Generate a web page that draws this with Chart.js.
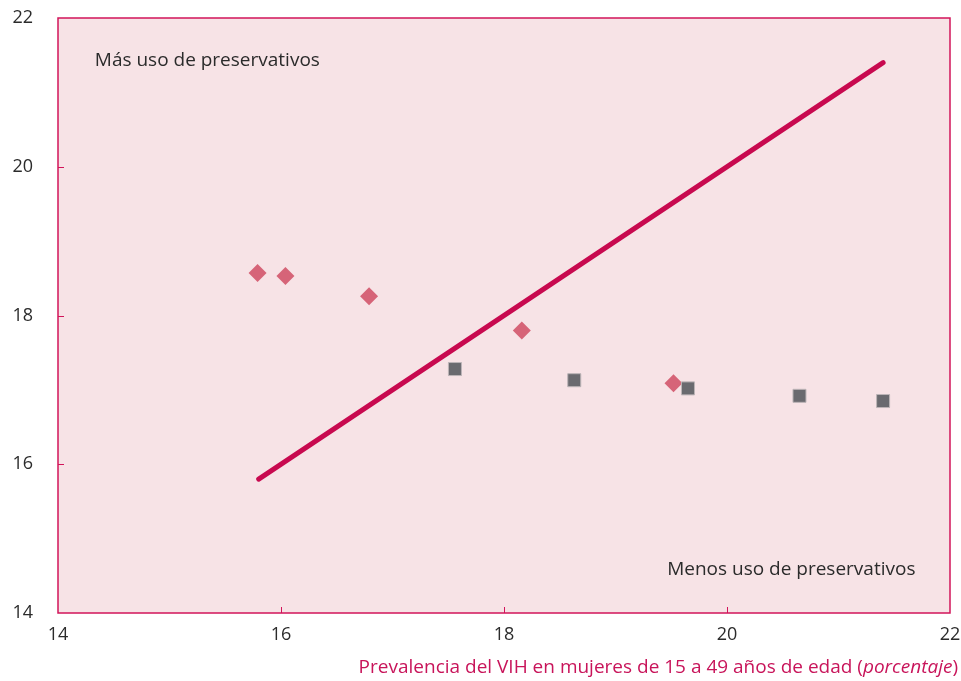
<!DOCTYPE html>
<html>
<head>
<meta charset="utf-8">
<script src="https://cdn.jsdelivr.net/npm/chart.js@4/dist/chart.umd.min.js"></script>
<style>
  html, body { margin: 0; padding: 0; background: #fff; }
  #wrap { width: 961px; height: 681px; position: relative; }
</style>
</head>
<body>
<div id="wrap"><canvas id="c"></canvas></div>
<script>
// values
const tickValues = [14, 16, 18, 20, 22]
const diamondX = [15.79, 16.04, 16.79, 18.16, 19.52]
const diamondY = [18.57, 18.53, 18.26, 17.80, 17.09]
const squareX = [17.56, 18.63, 19.65, 20.65, 21.40]
const squareY = [17.28, 17.13, 17.02, 16.92, 16.85]
const lineX = [15.8, 21.4]
const lineY = [15.8, 21.4]

const FONT = '"Open Sans", sans-serif'
const pink = '#d2145a'

function pts (xs, ys) {
  return xs.map((x, i) => ({x: x, y: ys[i]}))
}

const decor = {
  id: 'decor',
  beforeDatasetsDraw (chart) {
    const {ctx, chartArea: a} = chart
    ctx.save()
    ctx.fillStyle = '#f7e3e6'
    ctx.fillRect(a.left, a.top, a.right - a.left, a.bottom - a.top)
    ctx.restore()
  },
  afterDatasetsDraw (chart) {
    const {ctx, chartArea: a, scales} = chart
    const xs = scales.x, ys = scales.y
    ctx.save()
    // small inward ticks
    ctx.strokeStyle = pink
    ctx.lineWidth = 1
    ctx.beginPath()
    tickValues.slice(1, -1).forEach(v => {
      const px = Math.round(xs.getPixelForValue(v)) + 0.5
      ctx.moveTo(px, a.bottom)
      ctx.lineTo(px, a.bottom - 6)
      const py = Math.round(ys.getPixelForValue(v)) + 0.5
      ctx.moveTo(a.left, py)
      ctx.lineTo(a.left + 6, py)
    })
    ctx.stroke()
    // frame
    ctx.lineWidth = 1.5
    ctx.strokeRect(a.left, a.top, a.right - a.left, a.bottom - a.top)

    // annotations
    ctx.fillStyle = '#2b2b2b'
    ctx.font = '19px ' + FONT
    ctx.textBaseline = 'middle'
    ctx.textAlign = 'left'
    ctx.fillText('Más uso de preservativos', xs.getPixelForValue(14.33), ys.getPixelForValue(21.43))
    ctx.textAlign = 'right'
    ctx.fillText('Menos uso de preservativos', xs.getPixelForValue(21.69), ys.getPixelForValue(14.58))

    // axis title, with italic part
    const normal = '19px ' + FONT
    const italic = 'italic 19px ' + FONT
    const p1 = 'Prevalencia del VIH en mujeres de 15 a 49 años de edad ('
    const p2 = 'porcentaje'
    const p3 = ')'
    ctx.font = normal
    const w1 = ctx.measureText(p1).width
    const w3 = ctx.measureText(p3).width
    ctx.font = italic
    const w2 = ctx.measureText(p2).width
    let x = 958 - (w1 + w2 + w3)
    const y = 668
    ctx.fillStyle = '#c8145a'
    ctx.textAlign = 'left'
    ctx.font = normal
    ctx.fillText(p1, x, y)
    x += w1
    ctx.font = italic
    ctx.fillText(p2, x, y)
    x += w2
    ctx.font = normal
    ctx.fillText(p3, x, y)
    ctx.restore()
  }
}

const chart = new Chart(document.getElementById('c').getContext('2d'), {
  type: 'scatter',
  data: {
    datasets: [
      {
        type: 'line',
        label: 'línea',
        data: pts(lineX, lineY),
        borderColor: '#c8094f',
        borderWidth: 5,
        borderCapStyle: 'round',
        pointRadius: 0,
        fill: false,
        order: 3
      },
      {
        label: 'rombos',
        data: pts(diamondX, diamondY),
        pointStyle: 'rectRot',
        pointRadius: 9,
        pointBackgroundColor: '#d66478',
        pointBorderWidth: 0,
        order: 2
      },
      {
        label: 'cuadrados',
        data: pts(squareX, squareY),
        pointStyle: 'rect',
        pointRadius: 9.2,
        pointBackgroundColor: '#6a6a6f',
        pointBorderColor: '#bcb4b7',
        pointBorderWidth: 1,
        order: 1
      }
    ]
  },
  options: {
    responsive: true,
    maintainAspectRatio: false,
    animation: false,
    layout: {autoPadding: false, padding: {top: 18, right: 11, left: 0, bottom: 0}},
    scales: {
      x: {
        type: 'linear',
        min: 14,
        max: 22,
        afterBuildTicks: s => { s.ticks = tickValues.map(v => ({value: v})) },
        afterFit: s => { s.height = 68 },
        // invisible tick marks only carry the label offset
        grid: {display: true, drawOnChartArea: false, drawTicks: true, tickLength: 11, color: 'rgba(0,0,0,0)'},
        border: {display: false},
        ticks: {color: '#2b2b2b', font: {family: FONT, size: 18}, padding: 0, maxRotation: 0}
      },
      y: {
        type: 'linear',
        min: 14,
        max: 22,
        afterBuildTicks: s => { s.ticks = tickValues.map(v => ({value: v})) },
        afterFit: s => { s.width = 58 },
        grid: {display: true, drawOnChartArea: false, drawTicks: true, tickLength: 25, color: 'rgba(0,0,0,0)'},
        border: {display: false},
        ticks: {color: '#2b2b2b', font: {family: FONT, size: 18}, padding: 0}
      }
    },
    plugins: {
      legend: {display: false},
      tooltip: {enabled: false}
    }
  },
  plugins: [decor]
})
</script>
</body>
</html>
